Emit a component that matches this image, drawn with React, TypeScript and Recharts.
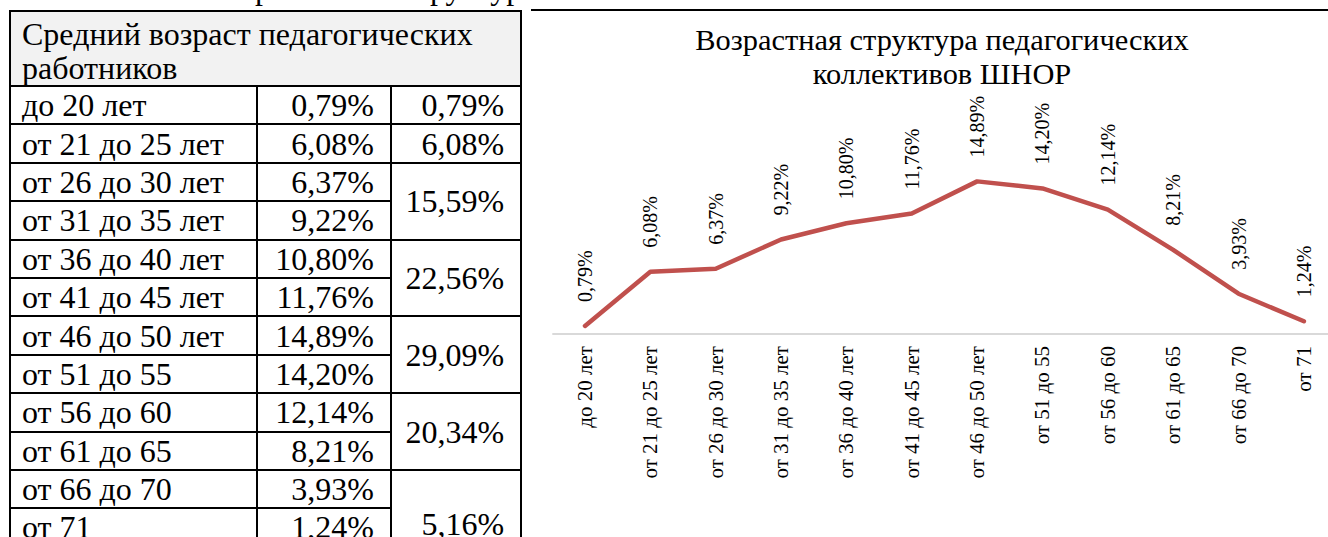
import { LabelList, Line, LineChart, XAxis, YAxis } from "recharts";

const ageGroups = [
  "до 20 лет",
  "от 21 до 25 лет",
  "от 26 до 30 лет",
  "от 31 до 35 лет",
  "от 36 до 40 лет",
  "от 41 до 45 лет",
  "от 46 до 50 лет",
  "от 51 до 55",
  "от 56 до 60",
  "от 61 до 65",
  "от 66 до 70",
  "от 71",
];
const shares = [0.79, 6.08, 6.37, 9.22, 10.8, 11.76, 14.89, 14.2, 12.14, 8.21, 3.93, 1.24];
const groupTotals = [0.79, 6.08, 15.59, 22.56, 29.09, 20.34, 5.16];
const groupSpans = [1, 1, 2, 2, 2, 2, 2];

const SERIF = '"Liberation Serif", "Times New Roman", Times, serif';
const fmt = (v: number) => v.toFixed(2).replace(".", ",") + "%";

const data = ageGroups.map((name, i) => ({ name, share: shares[i] }));

const cell: React.CSSProperties = {
  border: "2px solid #000",
  padding: "0 16px 0 11px",
  whiteSpace: "nowrap",
};

function AgeTable() {
  // which row starts each merged total cell
  const starts: Record<number, number> = {};
  let r = 0;
  groupSpans.forEach((span, g) => {
    starts[r] = g;
    r += span;
  });
  const last = ageGroups.length - 1;
  return (
    <table
      style={{
        position: "absolute",
        left: 9,
        top: 10,
        borderCollapse: "collapse",
        fontFamily: SERIF,
        fontSize: 32,
        lineHeight: "34px",
        tableLayout: "fixed",
        width: 511,
      }}
    >
      <colgroup>
        <col style={{ width: 247 }} />
        <col style={{ width: 134 }} />
        <col style={{ width: 130 }} />
      </colgroup>
      <tbody>
        <tr style={{ height: 74 }}>
          <td
            colSpan={3}
            style={{ ...cell, background: "#f2f2f2", whiteSpace: "normal", verticalAlign: "top", paddingTop: 5 }}
          >
            Средний возраст педагогических работников
          </td>
        </tr>
        {ageGroups.map((name, i) => {
          const g = starts[i];
          const rowCell: React.CSSProperties =
            i === last ? { ...cell, verticalAlign: "top", paddingTop: 1 } : cell;
          return (
            <tr key={name} style={{ height: i === last ? 70 : 38.4 }}>
              <td style={rowCell}>{name}</td>
              <td style={{ ...rowCell, textAlign: "right" }}>{fmt(shares[i])}</td>
              {g !== undefined && (
                <td rowSpan={groupSpans[g]} style={{ ...cell, textAlign: "right" }}>
                  {fmt(groupTotals[g])}
                </td>
              )}
            </tr>
          );
        })}
      </tbody>
    </table>
  );
}

function CategoryTick(props: any) {
  const { x, payload } = props;
  const y = props.y + 4;
  return (
    <text
      x={x}
      y={y}
      transform={`rotate(-90 ${x} ${y})`}
      textAnchor="end"
      dominantBaseline="central"
      fontSize={21}
      fontFamily={SERIF}
      fill="#000"
    >
      {payload.value}
    </text>
  );
}

function ValueLabel(props: any) {
  const { x, y, value } = props;
  const ly = y - 24;
  return (
    <text
      x={x}
      y={ly}
      transform={`rotate(-90 ${x} ${ly})`}
      textAnchor="start"
      dominantBaseline="central"
      fontSize={20}
      fontFamily={SERIF}
      fill="#000"
    >
      {fmt(value)}
    </text>
  );
}

export default function App() {
  return (
    <div
      style={{
        position: "fixed",
        left: 0,
        top: 0,
        width: 1328,
        height: 537,
        overflow: "hidden",
        background: "#fff",
        fontFamily: SERIF,
      }}
    >
      <div
        style={{
          position: "absolute",
          left: 205,
          top: -30,
          fontSize: 32,
          lineHeight: "36px",
          whiteSpace: "nowrap",
          wordSpacing: 34,
        }}
      >
        Возрастная структура
      </div>
      <AgeTable />
      <div style={{ position: "absolute", left: 531, top: 9, width: 800, height: 2, background: "#000" }} />
      <div style={{ position: "absolute", left: 530, top: 11, width: 830, height: 526, background: "#fff" }}>
        <div
          style={{
            position: "absolute",
            left: 0,
            width: 824,
            top: 12,
            textAlign: "center",
            fontSize: 30.4,
            lineHeight: "34px",
          }}
        >
          Возрастная структура педагогических
          <br />
          коллективов ШНОР
        </div>
        <LineChart
          width={830}
          height={526}
          data={data}
          margin={{ top: 159, right: 23.4, bottom: 0, left: 22.3 }}
          style={{ position: "absolute", left: 0, top: 0 }}
        >
          <YAxis hide domain={[0, 16]} />
          <XAxis
            dataKey="name"
            interval={0}
            height={203}
            padding={{ left: 32.7, right: 32.7 }}
            axisLine={{ stroke: "#d9d9d9", strokeWidth: 2 }}
            tickLine={false}
            tick={<CategoryTick />}
          />
          <Line
            type="linear"
            dataKey="share"
            stroke="#c0504d"
            strokeWidth={4.5}
            strokeLinecap="round"
            strokeLinejoin="round"
            dot={false}
            isAnimationActive={false}
          >
            <LabelList dataKey="share" content={<ValueLabel />} />
          </Line>
        </LineChart>
      </div>
    </div>
  );
}
